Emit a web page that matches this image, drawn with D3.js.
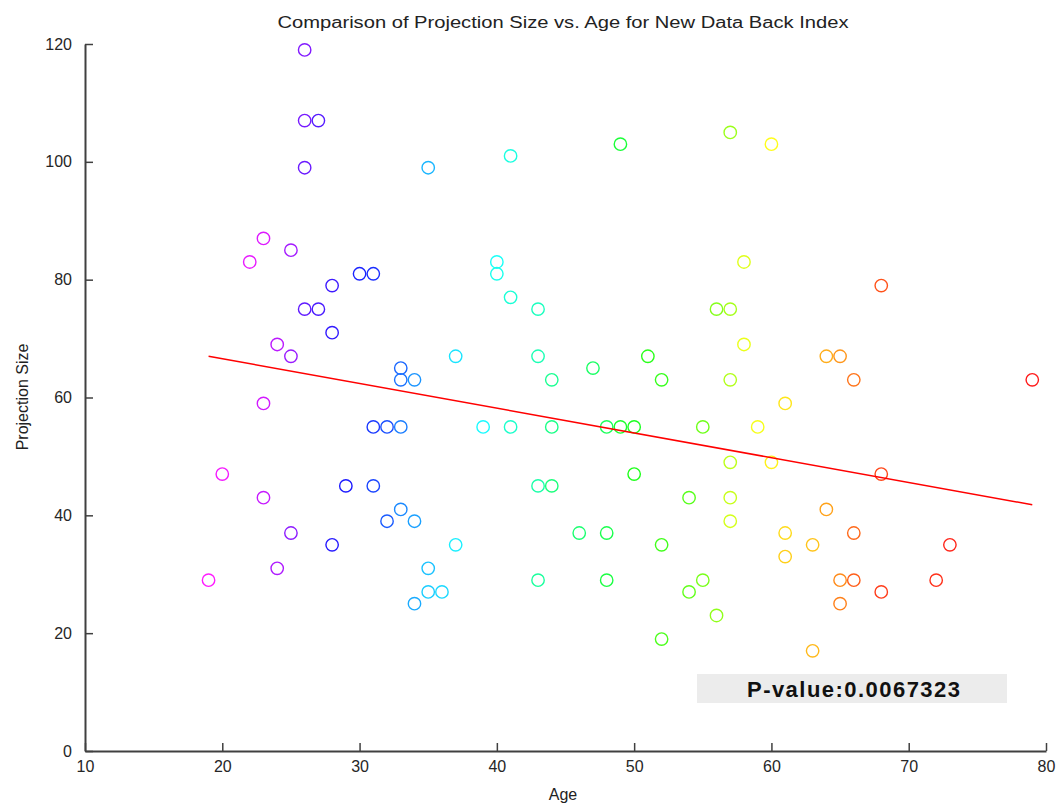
<!DOCTYPE html>
<html>
<head>
<meta charset="utf-8">
<script src="https://cdn.jsdelivr.net/npm/d3@7"></script>
<style>
body { margin: 0; background: #fff; }
svg text { font-family: "Liberation Sans", Arial, sans-serif; }
</style>
</head>
<body>
<script>
// ages (x) and projection sizes (y), in order of age
var ages = [19,20,22,23,23,23,24,24,25,25,25,26,26,26,26,27,27,28,28,28,
            29,30,31,31,31,32,32,33,33,33,33,34,34,34,35,35,35,36,37,37,
            39,40,40,41,41,41,43,43,43,43,44,44,44,46,47,48,48,48,49,49,
            50,50,51,52,52,52,54,54,55,55,56,56,57,57,57,57,57,57,58,58,
            59,60,60,61,61,61,63,63,64,64,65,65,65,66,66,66,68,68,68,72,
            73,79];
var sizes = [29,47,83,87,59,43,69,31,85,67,37,119,107,99,75,107,75,79,71,35,
             45,81,81,55,45,55,39,65,63,55,41,63,39,25,99,31,27,27,67,35,
             55,83,81,101,77,55,75,67,45,29,63,55,45,37,65,55,37,29,103,55,
             55,47,67,63,35,19,43,27,55,29,75,23,105,75,63,49,43,39,83,69,
             55,103,49,59,37,33,35,17,67,41,67,29,25,63,37,29,79,47,27,29,
             35,63];

// fitted regression line
var fitAge = [19, 79];
var fitSize = [67.0, 41.8];

var xTicks = [10,20,30,40,50,60,70,80];
var yTicks = [0,20,40,60,80,100,120];

var titleText = "Comparison of Projection Size vs. Age for New Data Back Index";
var pText = "P-value:0.0067323";

var W = 1060, H = 805;
var svg = d3.select("body").append("svg").attr("width", W).attr("height", H);

var x = d3.scaleLinear().domain([10, 80]).range([85, 1046]);
var y = d3.scaleLinear().domain([0, 120]).range([751, 44]);

var n = ages.length;
var color = function(i) { return d3.hsl(300 * (1 - i / (n - 1)), 1, 0.55).toString(); };

//Axes, ticks pointing inward like matlab.
var xAxis = d3.axisBottom(x).tickValues(xTicks).tickSizeInner(-8).tickSizeOuter(0).tickPadding(10);
var yAxis = d3.axisLeft(y).tickValues(yTicks).tickSizeInner(-8).tickSizeOuter(0).tickPadding(13);

var gx = svg.append("g").attr("transform", "translate(0," + y(0) + ")").call(xAxis);
var gy = svg.append("g").attr("transform", "translate(" + x(10) + ",0)").call(yAxis);

[gx, gy].forEach(function(g) {
	g.select(".domain").attr("stroke", "#404040").attr("stroke-width", 2);
	g.selectAll(".tick line").attr("stroke", "#404040").attr("stroke-width", 1.5);
	g.selectAll(".tick text").attr("fill", "#262626").style("font-size", "16px");
});

//Scatter points.
svg.append("g").selectAll("circle").data(ages).enter().append("circle")
	.attr("cx", function(d) { return x(d); })
	.attr("cy", function(d, i) { return y(sizes[i]); })
	.attr("r", 6.2)
	.attr("fill", "none")
	.attr("stroke-width", 1.4)
	.attr("stroke", function(d, i) { return color(i); });

//Regression line.
var line = d3.line().x(function(d) { return x(d); }).y(function(d, i) { return y(fitSize[i]); });
svg.append("path").datum(fitAge).attr("d", line)
	.attr("fill", "none").attr("stroke", "#ff0000").attr("stroke-width", 1.5);

//P-value box.
svg.append("rect").attr("x", 697).attr("y", 674).attr("width", 310).attr("height", 29).attr("fill", "#ececec");
svg.append("text").attr("x", 747).attr("y", 697).text(pText)
	.style("font-size", "22px").style("font-weight", "bold").attr("fill", "#111")
	.attr("textLength", 213).attr("lengthAdjust", "spacing");

//Titles.
svg.append("text").attr("x", 563).attr("y", 28).attr("text-anchor", "middle").text(titleText)
	.style("font-size", "16px").attr("fill", "#222")
	.attr("textLength", 571).attr("lengthAdjust", "spacingAndGlyphs");
svg.append("text").attr("x", 563).attr("y", 800).attr("text-anchor", "middle").text("Age")
	.style("font-size", "16px").attr("fill", "#222");
svg.append("text").attr("transform", "translate(28,397) rotate(-90)").attr("text-anchor", "middle")
	.text("Projection Size").style("font-size", "16px").attr("fill", "#222");
</script>
</body>
</html>
